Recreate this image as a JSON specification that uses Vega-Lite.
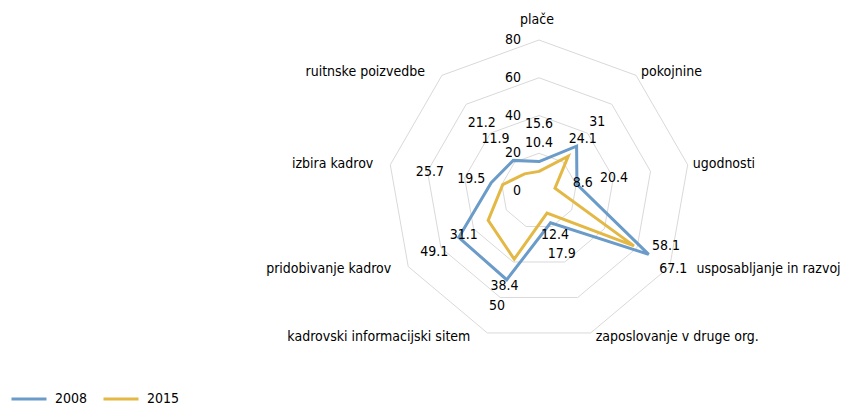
{
  "$schema": "https://vega.github.io/schema/vega-lite/v6.json",
  "width": 841,
  "height": 407,
  "padding": 0,
  "autosize": {"type": "none"},
  "background": "white",
  "config": {
    "view": {"stroke": null},
    "font": "DejaVu Sans Condensed, Roboto, sans-serif",
    "text": {"font": "DejaVu Sans Condensed, Roboto, sans-serif", "fontSize": 14, "fill": "#000000"}
  },
  "datasets": {
    "cats": [
      {"cat": "plače", "k": 0, "rings": [20, 40, 60, 80]},
      {"cat": "pokojnine", "k": 1, "rings": [20, 40, 60, 80]},
      {"cat": "ugodnosti", "k": 2, "rings": [20, 40, 60, 80]},
      {"cat": "usposabljanje in razvoj", "k": 3, "rings": [20, 40, 60, 80]},
      {"cat": "zaposlovanje v druge org.", "k": 4, "rings": [20, 40, 60, 80]},
      {"cat": "kadrovski informacijski sitem", "k": 5, "rings": [20, 40, 60, 80]},
      {"cat": "pridobivanje kadrov", "k": 6, "rings": [20, 40, 60, 80]},
      {"cat": "izbira kadrov", "k": 7, "rings": [20, 40, 60, 80]},
      {"cat": "ruitnske poizvedbe", "k": 8, "rings": [20, 40, 60, 80]}
    ],
    "series": [
      {"cat": "plače", "k": 0, "year": "2008", "value": 15.6},
      {"cat": "pokojnine", "k": 1, "year": "2008", "value": 31},
      {"cat": "ugodnosti", "k": 2, "year": "2008", "value": 20.4},
      {"cat": "usposabljanje in razvoj", "k": 3, "year": "2008", "value": 67.1},
      {"cat": "zaposlovanje v druge org.", "k": 4, "year": "2008", "value": 17.9},
      {"cat": "kadrovski informacijski sitem", "k": 5, "year": "2008", "value": 50},
      {"cat": "pridobivanje kadrov", "k": 6, "year": "2008", "value": 49.1},
      {"cat": "izbira kadrov", "k": 7, "year": "2008", "value": 25.7},
      {"cat": "ruitnske poizvedbe", "k": 8, "year": "2008", "value": 21.2},
      {"cat": "plače", "k": 0, "year": "2015", "value": 10.4},
      {"cat": "pokojnine", "k": 1, "year": "2015", "value": 24.1},
      {"cat": "ugodnosti", "k": 2, "year": "2015", "value": 8.6},
      {"cat": "usposabljanje in razvoj", "k": 3, "year": "2015", "value": 58.1},
      {"cat": "zaposlovanje v druge org.", "k": 4, "year": "2015", "value": 12.4},
      {"cat": "kadrovski informacijski sitem", "k": 5, "year": "2015", "value": 38.4},
      {"cat": "pridobivanje kadrov", "k": 6, "year": "2015", "value": 31.1},
      {"cat": "izbira kadrov", "k": 7, "year": "2015", "value": 19.5},
      {"cat": "ruitnske poizvedbe", "k": 8, "year": "2015", "value": 11.9}
    ],
    "ticks": [{"t": 0}, {"t": 20}, {"t": 40}, {"t": 60}, {"t": 80}]
  },
  "layer": [
    {
      "data": {"name": "cats"},
      "transform": [
        {"flatten": ["rings"]},
        {"calculate": "datum.rings * sin(datum.k * 2 * PI / 9)", "as": "x"},
        {"calculate": "datum.rings * cos(datum.k * 2 * PI / 9)", "as": "y"}
      ],
      "mark": {"type": "line", "interpolate": "linear-closed", "stroke": "#d9d9d9", "strokeWidth": 1},
      "encoding": {
        "x": {"field": "x", "type": "quantitative", "scale": {"domain": [-285.56, 160.0], "nice": false, "zero": false}, "axis": null},
        "y": {"field": "y", "type": "quantitative", "scale": {"domain": [-114.4, 101.2], "nice": false, "zero": false}, "axis": null},
        "detail": {"field": "rings", "type": "nominal"},
        "order": {"field": "k", "type": "quantitative"}
      }
    },
    {
      "data": {"name": "ticks"},
      "transform": [
        {"calculate": "0", "as": "x"}
      ],
      "mark": {"type": "text", "align": "right", "baseline": "middle", "dx": -18},
      "encoding": {
        "x": {"field": "x", "type": "quantitative"},
        "y": {"field": "t", "type": "quantitative"},
        "text": {"field": "t", "type": "quantitative"}
      }
    },
    {
      "data": {"name": "series"},
      "transform": [
        {"calculate": "datum.value * sin(datum.k * 2 * PI / 9)", "as": "x"},
        {"calculate": "datum.value * cos(datum.k * 2 * PI / 9)", "as": "y"}
      ],
      "mark": {"type": "line", "interpolate": "linear-closed", "strokeWidth": 3},
      "encoding": {
        "x": {"field": "x", "type": "quantitative"},
        "y": {"field": "y", "type": "quantitative"},
        "order": {"field": "k", "type": "quantitative"},
        "color": {
          "field": "year", "type": "nominal",
          "scale": {"domain": ["2008", "2015"], "range": ["#6b9bc8", "#e3b845"]},
          "legend": {
            "title": null, "orient": "none", "legendX": 10, "legendY": 380,
            "direction": "horizontal", "symbolType": "stroke", "symbolSize": 1225,
            "symbolStrokeWidth": 3, "labelFontSize": 14, "labelFont": "DejaVu Sans Condensed, Roboto, sans-serif",
            "labelColor": "#000000", "labelOffset": 7, "columnPadding": 9
          }
        }
      }
    },
    {
      "data": {"name": "series"},
      "transform": [
        {"calculate": "datum.year == '2008' ? (datum.k == 7 ? 33 : datum.k == 8 ? 26 : (datum.k == 0 || datum.k == 2) ? 20 : datum.k == 1 ? 17 : datum.k == 4 ? 17.5 : 15) : (datum.k == 8 ? 24 : datum.k == 7 ? 17 : datum.k == 1 ? 12 : datum.k == 4 ? 12.5 : datum.k == 3 ? 0 : 15)", "as": "off"},
        {"calculate": "(datum.k == 3 && datum.year == '2015') ? 17 : 0", "as": "ax"},
        {"calculate": "datum.value + datum.off", "as": "lr"},
        {"calculate": "datum.lr * sin(datum.k * 2 * PI / 9) + datum.ax", "as": "x"},
        {"calculate": "datum.lr * cos(datum.k * 2 * PI / 9)", "as": "y"}
      ],
      "mark": {"type": "text", "align": "center", "baseline": "middle"},
      "encoding": {
        "x": {"field": "x", "type": "quantitative"},
        "y": {"field": "y", "type": "quantitative"},
        "text": {"field": "value", "type": "quantitative"}
      }
    },
    {
      "data": {"name": "cats"},
      "transform": [
        {"filter": "datum.k >= 1 && datum.k <= 4"},
        {"calculate": "80 * sin(datum.k * 2 * PI / 9) + (datum.k == 3 ? 11.5 : 0)", "as": "x"},
        {"calculate": "82.4 * cos(datum.k * 2 * PI / 9)", "as": "y"}
      ],
      "mark": {"type": "text", "align": "left", "baseline": "middle", "dx": 5},
      "encoding": {
        "x": {"field": "x", "type": "quantitative"},
        "y": {"field": "y", "type": "quantitative"},
        "text": {"field": "cat", "type": "nominal"}
      }
    },
    {
      "data": {"name": "cats"},
      "transform": [
        {"filter": "datum.k >= 5"},
        {"calculate": "80 * sin(datum.k * 2 * PI / 9)", "as": "x"},
        {"calculate": "82.4 * cos(datum.k * 2 * PI / 9)", "as": "y"}
      ],
      "mark": {"type": "text", "align": "right", "baseline": "middle", "dx": -17},
      "encoding": {
        "x": {"field": "x", "type": "quantitative"},
        "y": {"field": "y", "type": "quantitative"},
        "text": {"field": "cat", "type": "nominal"}
      }
    },
    {
      "data": {"name": "cats"},
      "transform": [
        {"filter": "datum.k == 0"},
        {"calculate": "0", "as": "x"},
        {"calculate": "90.5", "as": "y"}
      ],
      "mark": {"type": "text", "align": "center", "baseline": "middle", "dx": -2},
      "encoding": {
        "x": {"field": "x", "type": "quantitative"},
        "y": {"field": "y", "type": "quantitative"},
        "text": {"field": "cat", "type": "nominal"}
      }
    }
  ]
}
